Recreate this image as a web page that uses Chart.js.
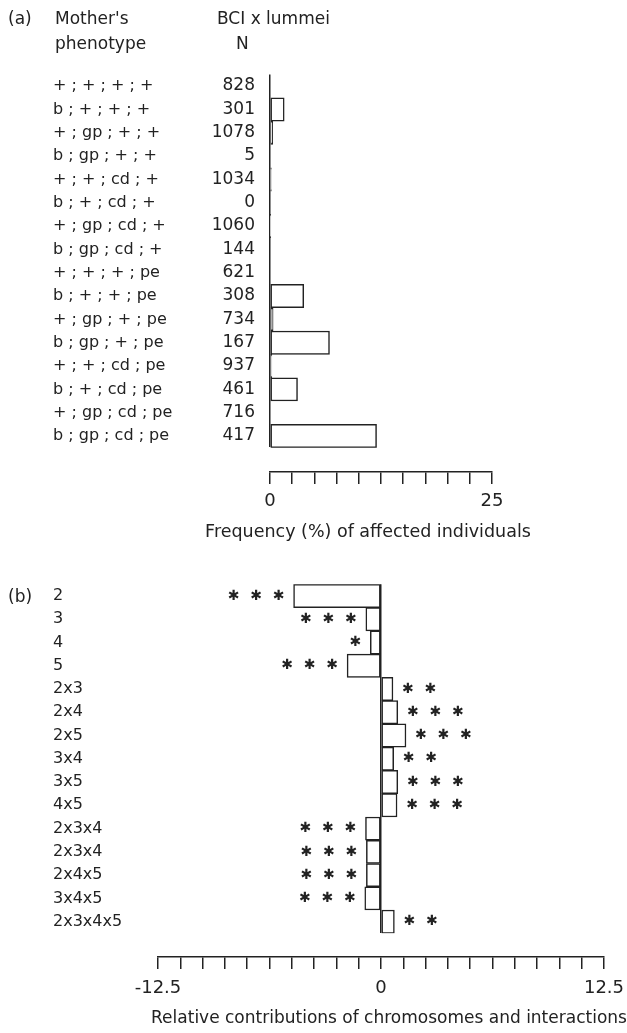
<!DOCTYPE html>
<html>
<head>
<meta charset="utf-8">
<script src="https://cdn.jsdelivr.net/npm/chart.js@4.4.1/dist/chart.umd.min.js"></script>
<style>
  html, body { margin: 0; padding: 0; background: #fff; }
  body { width: 627px; height: 1033px; position: relative; overflow: hidden;
         font-family: "DejaVu Sans", sans-serif; color: #222; }
  .lbl { position: absolute; font-size: 17px; line-height: 18px; white-space: nowrap; }
  .axt { position: absolute; width: 500px; text-align: center; line-height: 20px; white-space: nowrap; }
  #chartA { position: absolute; left: 0; top: 0; }
  #chartB { position: absolute; left: 0; top: 560px; }
</style>
</head>
<body>
<canvas id="chartA" width="627" height="560"></canvas>
<canvas id="chartB" width="627" height="473"></canvas>

<div class="lbl" style="left:8px;top:9px;">(a)</div>
<div class="lbl" style="left:55px;top:9px;">Mother's</div>
<div class="lbl" style="left:55px;top:34px;">phenotype</div>
<div class="lbl" style="left:217px;top:9px;">BCI x lummei</div>
<div class="lbl" style="left:236px;top:34px;">N</div>
<div class="axt" style="left:118px;top:521px;font-size:17.5px;">Frequency (%) of affected individuals</div>
<div class="lbl" style="left:8px;top:587px;">(b)</div>
<div class="axt" style="left:139px;top:1007px;font-size:17px;">Relative contributions of chromosomes and interactions</div>

<script>
// ---- panel (a) ----
var phenotypes = ['+ ; + ; + ; +', 'b ; + ; + ; +', '+ ; gp ; + ; +', 'b ; gp ; + ; +',
                  '+ ; + ; cd ; +', 'b ; + ; cd ; +', '+ ; gp ; cd ; +', 'b ; gp ; cd ; +',
                  '+ ; + ; + ; pe', 'b ; + ; + ; pe', '+ ; gp ; + ; pe', 'b ; gp ; + ; pe',
                  '+ ; + ; cd ; pe', 'b ; + ; cd ; pe', '+ ; gp ; cd ; pe', 'b ; gp ; cd ; pe'];
var sampleN = ['828', '301', '1078', '5', '1034', '0', '1060', '144',
               '621', '308', '734', '167', '937', '461', '716', '417'];
var affectedPct = [0, 1.6, 0.3, 0, 0.15, 0, 0.05, 0, 0, 3.8, 0.35, 6.7, 0.2, 3.1, 0, 12.0];
var freqTicks = [0, 25];

// ---- panel (b) ----
var effects = ['2', '3', '4', '5', '2x3', '2x4', '2x5', '3x4', '3x5', '4x5',
               '2x3x4', '2x3x4', '2x4x5', '3x4x5', '2x3x4x5'];
var contributions = [-4.9, -0.85, -0.6, -1.9, 0.67, 0.94, 1.4, 0.71, 0.94, 0.9,
                     -0.87, -0.82, -0.82, -0.91, 0.75];
var signif = ['***', '***', '*', '***', '**', '***', '***', '**', '***', '***',
              '***', '***', '***', '***', '**'];
var contribTicks = [-12.5, 0, 12.5];

var ink = '#222';
Chart.defaults.font.family = '"DejaVu Sans", sans-serif';
Chart.defaults.color = ink;

// push the x axis down so it stands clear of the bars
var dropAxis = {
    id: 'dropAxis',
    afterLayout: function(chart, args, opts) {
        var sc = chart.scales.x;
        sc.top += opts.gap;
        sc.bottom += opts.gap;
    }
};

// significance asterisks beside each bar end
var starMarks = {
    id: 'starMarks',
    afterDatasetsDraw: function(chart, args, opts) {
        var ctx = chart.ctx;
        var meta = chart.getDatasetMeta(0);
        ctx.save();
        ctx.fillStyle = ink;
        ctx.font = 'bold 14px "DejaVu Sans"';
        ctx.textAlign = 'center';
        ctx.textBaseline = 'middle';
        meta.data.forEach(function(bar, i) {
            var dir = contributions[i] < 0 ? -1 : 1;
            for (var k = 0; k < signif[i].length; k++) {
                ctx.fillText('\u2731', bar.x + dir * (opts.gap + k * opts.step), bar.y);
            }
        });
        ctx.restore();
    }
};

function zeroGrid(ctx) {
    return ctx.tick && ctx.tick.value === 0 ? ink : 'rgba(0,0,0,0)';
}

// fixed axis height, and no extra side padding for the end labels
function fixX(h) {
    return function(s) {
        s.height = h;
        s.paddingLeft = 0;
        s.paddingRight = 0;
    };
}

var barStyle = {
    backgroundColor: '#fff',
    borderColor: ink,
    borderWidth: 1.5,
    borderSkipped: false,
    categoryPercentage: 1,
    barPercentage: 1
};

new Chart(document.getElementById('chartA'), {
    type: 'bar',
    data: {
        labels: phenotypes,
        datasets: [Object.assign({ data: affectedPct }, barStyle)]
    },
    plugins: [dropAxis],
    options: {
        responsive: false,
        animation: false,
        indexAxis: 'y',
        layout: { padding: { left: 53, right: 135, top: 74.4, bottom: 24.3 } },
        plugins: {
            legend: { display: false },
            tooltip: { enabled: false },
            dropAxis: { gap: 24.3 }
        },
        scales: {
            x: {
                type: 'linear', min: 0, max: 25,
                afterFit: fixX(88),
                border: { display: true, color: ink, width: 1.5 },
                grid: { drawOnChartArea: true, color: zeroGrid, tickColor: ink, tickLength: 12, lineWidth: 1.5 },
                ticks: {
                    stepSize: 2.5, autoSkip: false, maxRotation: 0, padding: 7,
                    font: { size: 18 },
                    callback: function(v) { return freqTicks.indexOf(v) >= 0 ? String(v) : ''; }
                }
            },
            y: {
                position: 'left', weight: 1,
                afterFit: function(s) { s.width = 150; },
                grid: { display: false, drawTicks: false },
                border: { display: false },
                ticks: { crossAlign: 'far', font: { size: 16 }, autoSkip: false }
            },
            y2: {
                type: 'category', labels: sampleN, position: 'left', weight: 0, offset: true,
                afterFit: function(s) { s.width = 67; },
                grid: { display: false, drawTicks: false },
                border: { display: false },
                ticks: { padding: 15, font: { size: 17 }, autoSkip: false }
            }
        }
    }
});

new Chart(document.getElementById('chartB'), {
    type: 'bar',
    data: {
        labels: effects,
        datasets: [Object.assign({ data: contributions }, barStyle)]
    },
    plugins: [dropAxis, starMarks],
    options: {
        responsive: false,
        animation: false,
        indexAxis: 'y',
        layout: { padding: { left: 53, right: 23, top: 24.3, bottom: 23.7 } },
        plugins: {
            legend: { display: false },
            tooltip: { enabled: false },
            dropAxis: { gap: 23.7 },
            starMarks: { gap: 15, step: 22.5 }
        },
        scales: {
            x: {
                type: 'linear', min: -12.5, max: 12.5,
                afterFit: fixX(76),
                border: { display: true, color: ink, width: 1.5 },
                grid: { drawOnChartArea: true, color: zeroGrid, tickColor: ink, tickLength: 12, lineWidth: 1.5 },
                ticks: {
                    stepSize: 1.25, maxTicksLimit: 40, autoSkip: false, maxRotation: 0, padding: 9,
                    font: { size: 18 },
                    callback: function(v) { return contribTicks.indexOf(v) >= 0 ? String(v) : ''; }
                }
            },
            y: {
                position: 'left',
                afterFit: function(s) { s.width = 105; },
                grid: { display: false, drawTicks: false },
                border: { display: false },
                ticks: { crossAlign: 'far', font: { size: 16 }, autoSkip: false }
            }
        }
    }
});
</script>
</body>
</html>
